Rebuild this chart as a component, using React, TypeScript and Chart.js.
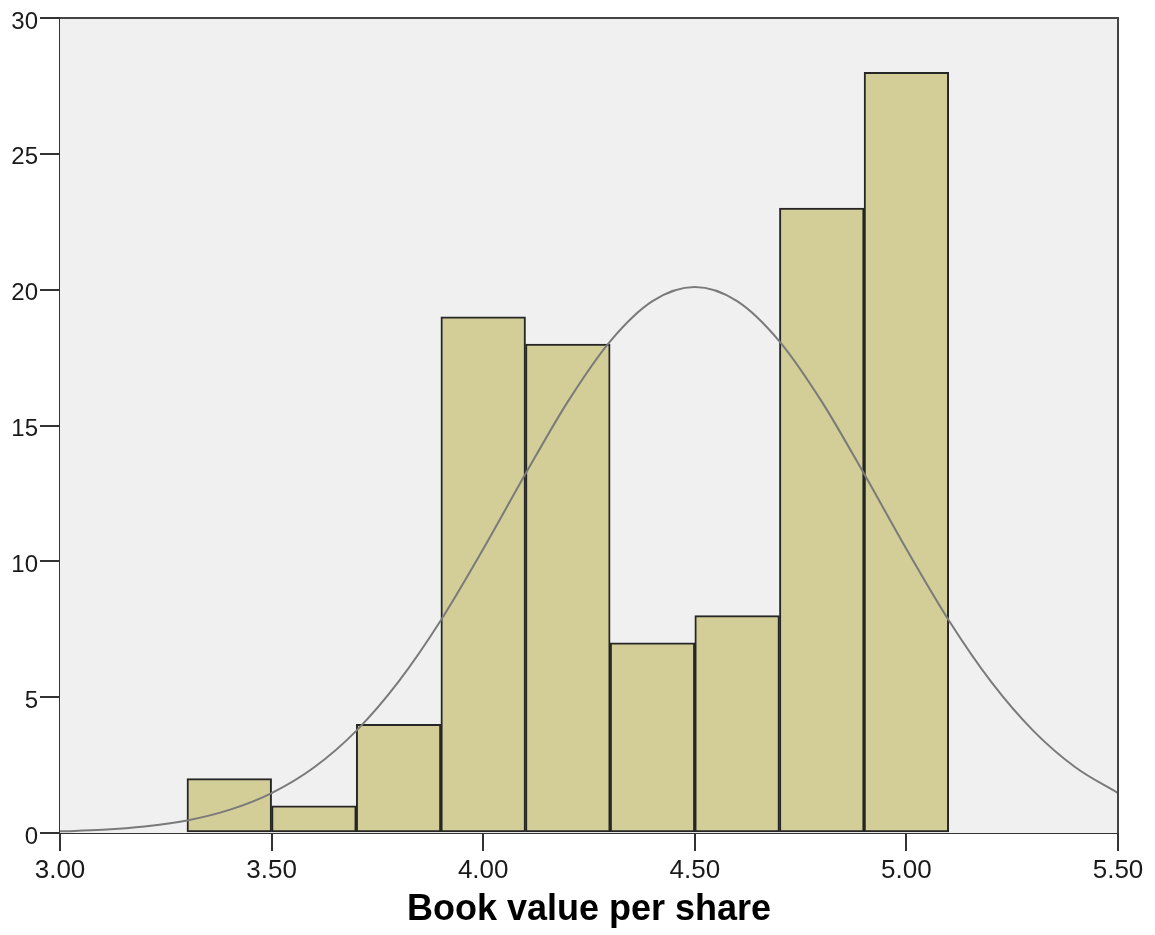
import React, { useEffect, useRef } from "react";
import { Chart, registerables } from "chart.js";

Chart.register(...registerables);

// Histogram bins (bin centres, width 0.2) and frequencies
const BIN_CENTERS = [3.4, 3.6, 3.8, 4.0, 4.2, 4.4, 4.6, 4.8, 5.0];
const BIN_COUNTS = [2, 1, 4, 19, 18, 7, 8, 23, 28];

// Normal curve
const CURVE_X = [3.0, 3.1, 3.2, 3.3, 3.4, 3.5, 3.6, 3.7, 3.8, 3.9, 4.0, 4.1, 4.2, 4.3, 4.4, 4.5, 4.6, 4.7, 4.8, 4.9, 5.0, 5.1, 5.2, 5.3, 5.4, 5.5];
const CURVE_Y = [0.06, 0.12, 0.24, 0.46, 0.85, 1.47, 2.41, 3.76, 5.57, 7.83, 10.45, 13.22, 15.88, 18.1, 19.58, 20.1, 19.58, 18.1, 15.88, 13.22, 10.45, 7.83, 5.57, 3.76, 2.41, 1.47];

const X_TICKS = [3.0, 3.5, 4.0, 4.5, 5.0, 5.5];
const Y_TICKS = [0, 5, 10, 15, 20, 25, 30];
const X_TITLE = "Book value per share";

const FONT = "'Liberation Sans', Arial, sans-serif";

const plotFrame = {
  id: "plotFrame",
  beforeDatasetsDraw(chart: any) {
    const { ctx, chartArea } = chart;
    ctx.save();
    ctx.fillStyle = "#F0F0F0";
    ctx.fillRect(chartArea.left, chartArea.top, chartArea.right - chartArea.left, chartArea.bottom - chartArea.top);
    ctx.restore();
  },
  afterDraw(chart: any) {
    const { ctx, chartArea } = chart;
    ctx.save();
    ctx.strokeStyle = "#444444";
    ctx.lineWidth = 2;
    ctx.beginPath();
    ctx.moveTo(chartArea.left, chartArea.top);
    ctx.lineTo(chartArea.right, chartArea.top);
    ctx.lineTo(chartArea.right, chartArea.bottom);
    ctx.stroke();
    ctx.restore();
  },
};

export default function App() {
  const ref = useRef<HTMLCanvasElement>(null);

  useEffect(() => {
    document.body.style.margin = "0";
    const canvas = ref.current;
    if (!canvas) return;
    const chart = new Chart(canvas, {
      type: "bar",
      data: {
        datasets: [
          {
            type: "line",
            data: CURVE_X.map((x, i) => ({ x, y: CURVE_Y[i] })),
            borderColor: "#7A7A7A",
            borderWidth: 2,
            pointRadius: 0,
            cubicInterpolationMode: "monotone",
            fill: false,
            order: 0,
          } as any,
          {
            type: "bar",
            data: BIN_CENTERS.map((x, i) => ({ x, y: BIN_COUNTS[i] })),
            backgroundColor: "#D3CE97",
            borderColor: "#262626",
            borderWidth: 2,
            borderSkipped: false,
            barPercentage: 1,
            categoryPercentage: 1,
            grouped: false,
            order: 1,
          } as any,
        ],
      },
      options: {
        responsive: false,
        devicePixelRatio: 1,
        animation: false,
        events: [],
        layout: { padding: { top: 18, right: 37, left: 0, bottom: 0 } },
        plugins: {
          legend: { display: false },
          tooltip: { enabled: false },
          title: { display: false },
        },
        scales: {
          x: {
            type: "linear",
            min: X_TICKS[0],
            max: X_TICKS[X_TICKS.length - 1],
            offset: false,
            afterFit(scale: any) {
              scale.height = 102;
            },
            afterBuildTicks(scale: any) {
              scale.ticks = X_TICKS.map((v) => ({ value: v }));
            },
            grid: {
              offset: false,
              drawOnChartArea: false,
              drawTicks: true,
              tickLength: 18,
              color: "#333333",
              lineWidth: 2,
            },
            border: { display: true, color: "#333333", width: 2 },
            ticks: {
              padding: 4,
              color: "#1A1A1A",
              font: { family: FONT, size: 26 },
              maxRotation: 0,
              autoSkip: false,
              callback: (v: any) => Number(v).toFixed(2),
            },
            title: {
              display: true,
              text: X_TITLE,
              color: "#000000",
              font: { family: FONT, size: 36, weight: "bold" },
              padding: { top: 0, bottom: 3 },
            },
          },
          y: {
            type: "linear",
            min: Y_TICKS[0],
            max: Y_TICKS[Y_TICKS.length - 1],
            afterFit(scale: any) {
              scale.width = 60;
            },
            afterBuildTicks(scale: any) {
              scale.ticks = Y_TICKS.map((v) => ({ value: v }));
            },
            grid: {
              drawOnChartArea: false,
              drawTicks: true,
              tickLength: 20,
              color: "#333333",
              lineWidth: 2,
            },
            border: { display: true, color: "#333333", width: 2 },
            ticks: {
              padding: 2,
              color: "#1A1A1A",
              font: { family: FONT, size: 24 },
              labelOffset: 4,
              callback: (v: any) => String(v),
            },
          },
        },
      },
      plugins: [plotFrame],
    } as any);
    return () => chart.destroy();
  }, []);

  return (
    <canvas
      ref={ref}
      width={1155}
      height={935}
      style={{ display: "block", position: "absolute", left: 0, top: 0, width: 1155, height: 935 }}
    />
  );
}
